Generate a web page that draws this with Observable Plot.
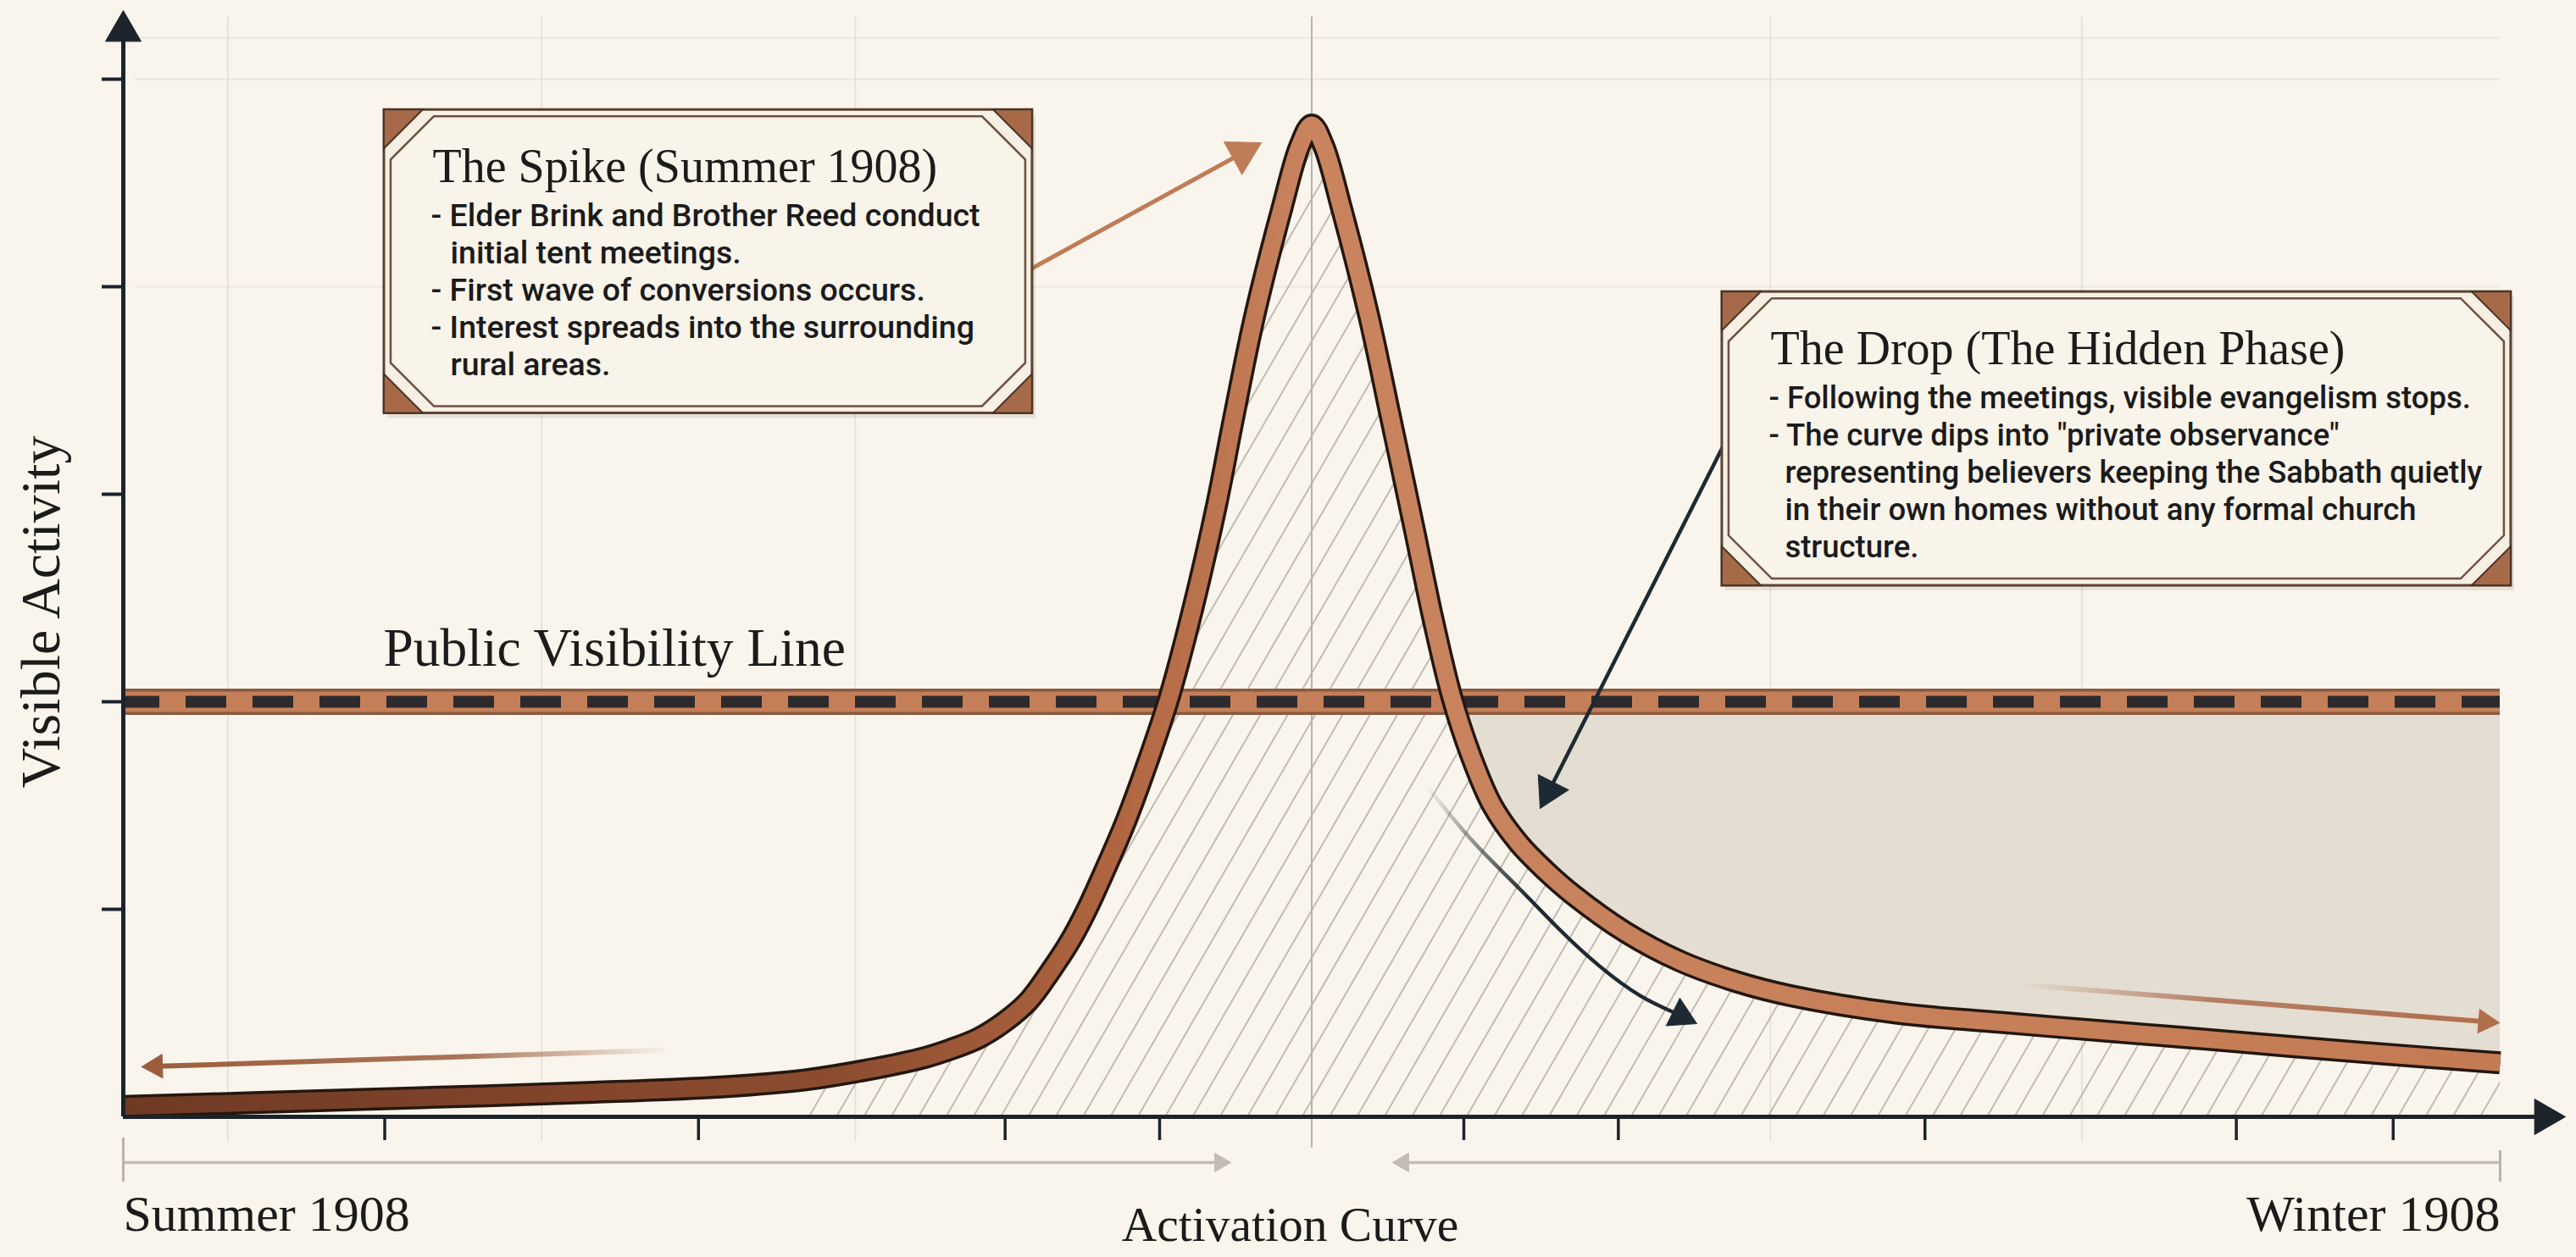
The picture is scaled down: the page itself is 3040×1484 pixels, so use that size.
<!DOCTYPE html>
<html><head><meta charset="utf-8">
<script src="https://cdn.jsdelivr.net/npm/d3@7"></script>
<script src="https://cdn.jsdelivr.net/npm/@observablehq/plot@0.6"></script>
<style>
html,body{margin:0;padding:0;background:#f9f5ec;}
#chart{width:3040px;height:1484px;overflow:hidden;}
#chart svg{display:block;overflow:visible;}
</style></head><body>
<svg width="0" height="0" style="position:absolute">
<defs>
  <linearGradient id="curveGrad" gradientUnits="userSpaceOnUse" x1="145" y1="0" x2="2950" y2="0">
    <stop offset="0" stop-color="#6f3a24"/>
    <stop offset="0.3" stop-color="#8d4c2f"/>
    <stop offset="0.42" stop-color="#b06641"/>
    <stop offset="0.5" stop-color="#c9845f"/>
    <stop offset="1" stop-color="#c47b53"/>
  </linearGradient>
  <linearGradient id="fadeLeft" gradientUnits="userSpaceOnUse" x1="167" y1="0" x2="792" y2="0">
    <stop offset="0" stop-color="#9c5d3d" stop-opacity="1"/>
    <stop offset="0.6" stop-color="#9c5d3d" stop-opacity="0.85"/>
    <stop offset="1" stop-color="#9c5d3d" stop-opacity="0"/>
  </linearGradient>
  <linearGradient id="fadeRight" gradientUnits="userSpaceOnUse" x1="2384" y1="0" x2="2949" y2="0">
    <stop offset="0" stop-color="#a8674a" stop-opacity="0"/>
    <stop offset="0.4" stop-color="#a8674a" stop-opacity="0.8"/>
    <stop offset="1" stop-color="#b06e4b" stop-opacity="1"/>
  </linearGradient>
  <linearGradient id="fadeDark" gradientUnits="userSpaceOnUse" x1="1683" y1="927" x2="1800" y2="1060">
    <stop offset="0" stop-color="#1e2a33" stop-opacity="0"/>
    <stop offset="1" stop-color="#1e2a33" stop-opacity="1"/>
  </linearGradient>
  <pattern id="hatch" patternUnits="userSpaceOnUse" width="28" height="28" patternTransform="rotate(30)">
    <line x1="2" y1="0" x2="2" y2="28" stroke="#b3aca2" stroke-width="1.6"/>
  </pattern>
</defs>
</svg>
<div id="chart"></div>
<script>
// ---------- data ----------
const curveX = [0,5.5,12.5,19.8,25.3,28.7,31.7,33.7,34.8,36.0,37.1,38.1,39.0,39.8,40.5,41.3,42.2,43.1,44.0,45.0,46.0,46.7,47.6,48.75,49.5,50.0,50.5,51.25,52.4,53.3,54.3,55.1,55.9,56.7,57.6,58.7,59.8,61.0,63.2,65.5,67.9,70.1,74.6,79.0,83.7,87.5,91.1,95.4,100];
const curveY = [0.05,0.068,0.092,0.118,0.145,0.178,0.235,0.285,0.325,0.38,0.46,0.56,0.70,0.84,0.99,1.19,1.43,1.71,2.02,2.45,2.95,3.36,3.86,4.38,4.68,4.78,4.68,4.38,3.86,3.38,2.84,2.40,2.02,1.74,1.50,1.32,1.19,1.07,0.89,0.75,0.65,0.585,0.50,0.455,0.41,0.375,0.34,0.30,0.26];
const visibilityLevel = 2;
const yTicks = [1,2,3,4,5];
const xTicks = [11.0,24.2,37.1,43.6,56.4,62.9,75.8,88.9,95.5];
const gridX = [4.4,17.6,30.8,69.3,82.4];
const gridY = [4.0,5.0,5.2];
const peakX = 50;
const startLabel = "Summer 1908";
const endLabel = "Winter 1908";
const xLabel = "Activation Curve";
const yLabel = "Visible Activity";
const lineLabel = "Public Visibility Line";
const boxTitles = ["The Spike (Summer 1908)", "The Drop (The Hidden Phase)"];
const spikeLines = [
  {t:"- Elder Brink and Brother Reed conduct", indent:false},
  {t:"initial tent meetings.", indent:true},
  {t:"- First wave of conversions occurs.", indent:false},
  {t:"- Interest spreads into the surrounding", indent:false},
  {t:"rural areas.", indent:true}
];
const dropLines = [
  {t:"- Following the meetings, visible evangelism stops.", indent:false},
  {t:"- The curve dips into \"private observance\"", indent:false},
  {t:"representing believers keeping the Sabbath quietly", indent:true},
  {t:"in their own homes without any formal church", indent:true},
  {t:"structure.", indent:true}
];
// annotation anchors (data units)
const boxX1 = [10.98, 67.27], boxX2 = [38.25, 100.46], boxYTop = [4.852, 3.975], boxYBot = [3.39, 2.559];
const spikeArrow = [[38.25, 4.09],[47.88, 4.694]];
const dropArrow = [[67.42, 3.257],[59.61, 1.486]];
const slideArrow = [[54.83,1.596],[56.69,1.339],[58.68,1.106],[60.43,0.902],[62.10,0.727],[63.81,0.584],[66.2,0.449]];
const backArrow = [[23.07,0.322],[0.78,0.241]];
const tailArrow = [[79.82,0.637],[99.96,0.453]];
const subAxisY = -0.22;

// ---------- geometry helpers (same mapping as the Plot scales) ----------
const W = 3040, H = 1484, ML = 145, MR = 90, MT = 93, MB = 166;
const X = v => ML + v * (W - ML - MR) / 100;
const Y = v => (H - MB) - v * (H - MB - MT) / 5;
const iX = p => (p - ML) * 100 / (W - ML - MR);
const iY = p => ((H - MB) - p) * 5 / (H - MB - MT);
const pxY = p => p * 5 / (H - MB - MT);
const pxX = p => p * 100 / (W - ML - MR);
function head(tail, tip, s) {
  const dx = X(tip[0]) - X(tail[0]), dy = Y(tip[1]) - Y(tail[1]);
  const L = Math.hypot(dx, dy), ux = dx / L, uy = dy / L;
  const h = s * Math.sqrt(3) / 2;
  return {
    x: iX(X(tip[0]) - ux * h * 2 / 3), y: iY(Y(tip[1]) - uy * h * 2 / 3),
    r: s * 0.3713, rotate: Math.atan2(ux, -uy) * 180 / Math.PI,
    base: [iX(X(tip[0]) - ux * h * 0.85), iY(Y(tip[1]) - uy * h * 0.85)]
  };
}
const dotHead = (h, fill) => Plot.dot([h], {x: "x", y: "y", r: h.r, rotate: h.rotate, symbol: "triangle", fill, stroke: fill, strokeWidth: 1});

const curve = curveX.map((x, i) => ({x, y: curveY[i]}));
const hidden = curve.filter(d => d.x >= 55.9);
const hatched = curve.filter(d => d.x >= 26);

const hY = head([0,0],[0,iY(12)],42);
const hX = head([0,0],[iX(3027),0],42);
const hSpike = head(spikeArrow[0], spikeArrow[1], 44);
const hDrop = head(dropArrow[0], dropArrow[1], 40);
const hSlide = head(slideArrow[5], slideArrow[6], 36);
const hBack = head(backArrow[0], backArrow[1], 28);
const hTail = head(tailArrow[0], tailArrow[1], 28);
const hSubL = head([0, subAxisY], [46.6, subAxisY], 22);
const hSubR = head([100, subAxisY], [53.4, subAxisY], 22);

const ink = "#1c232a";
const serif = "Liberation Serif";
const sans = "Roboto";
const xy = {x: d => d[0], y: d => d[1]};
const CURVE = "catmull-rom";

function textLines(lines, b, indentPx) {
  return lines.map((d, i) => ({...d, x: boxX1[b] + pxX(d.indent ? indentPx : 55), y: boxYTop[b] - pxY(125.5 + i * 44)}));
}

const plot = Plot.plot({
  width: W, height: H,
  marginLeft: ML, marginRight: MR, marginTop: MT, marginBottom: MB,
  x: {domain: [0, 100], axis: null},
  y: {domain: [0, 5], axis: null},
  style: {background: "transparent", overflow: "visible"},
  marks: [
    // faint grid
    Plot.ruleX(gridX, {y1: -0.12, y2: 5.3, stroke: "#d2cbbf", strokeWidth: 1.5, strokeOpacity: 0.55}),
    Plot.ruleY(gridY, {x1: 0.5, x2: 100, stroke: "#d6cfc3", strokeWidth: 1.5, strokeOpacity: 0.45}),
    // hidden phase
    Plot.areaY(hidden, {x: "x", y1: "y", y2: () => 1.95, curve: CURVE, fill: "#e4ddd1"}),
    // hatch under the curve
    Plot.areaY(hatched, {x: "x", y: "y", curve: CURVE, fill: "url(#hatch)"}),
    Plot.ruleX([peakX], {y1: -0.15, y2: 5.3, stroke: "#b9b2a8", strokeWidth: 2}),
    // public visibility band
    Plot.ruleY([visibilityLevel], {x1: 0, x2: 100, stroke: "#8a5a40", strokeWidth: 31}),
    Plot.ruleY([visibilityLevel], {x1: 0, x2: 100, stroke: "#c47f58", strokeWidth: 24}),
    Plot.ruleY([visibilityLevel], {x1: 0, x2: 100, stroke: "#2c2a2d", strokeWidth: 14, strokeDasharray: "48,31", strokeDashoffset: 5}),
    // the activation curve
    Plot.line(curve, {x: "x", y: "y", curve: CURVE, stroke: "#24170f", strokeWidth: 27, strokeLinecap: "butt", strokeLinejoin: "round"}),
    Plot.line(curve, {x: "x", y: "y", curve: CURVE, stroke: "url(#curveGrad)", strokeWidth: 20, strokeLinecap: "butt", strokeLinejoin: "round"}),
    // axes
    Plot.ruleX([0], {y1: 0, y2: hY.base[1], stroke: ink, strokeWidth: 5}),
    Plot.ruleY([0], {x1: 0, x2: hX.base[0], stroke: ink, strokeWidth: 5}),
    Plot.ruleY(yTicks, {x1: iX(120), x2: 0, stroke: ink, strokeWidth: 4}),
    Plot.ruleX(xTicks, {y1: 0, y2: -pxY(28), stroke: ink, strokeWidth: 3.5}),
    dotHead(hY, ink), dotHead(hX, ink),
    // sub-axis range arrows
    Plot.ruleY([subAxisY], {x1: 0, x2: hSubL.base[0], stroke: "#c2bcb3", strokeWidth: 3.5}),
    Plot.ruleY([subAxisY], {x1: hSubR.base[0], x2: 100, stroke: "#c2bcb3", strokeWidth: 3.5}),
    Plot.ruleX([0], {y1: -pxY(25), y2: -pxY(77), stroke: "#b9b3aa", strokeWidth: 3}),
    Plot.ruleX([100], {y1: -pxY(40), y2: -pxY(77), stroke: "#b9b3aa", strokeWidth: 3}),
    dotHead(hSubL, "#c2bcb3"), dotHead(hSubR, "#c2bcb3"),
    // annotation arrows
    Plot.line([spikeArrow[0], hSpike.base], {...xy, stroke: "#c07b57", strokeWidth: 5}),
    dotHead(hSpike, "#c07b57"),
    Plot.line([dropArrow[0], hDrop.base], {...xy, stroke: "#1e2a33", strokeWidth: 4.5}),
    dotHead(hDrop, "#1e2a33"),
    Plot.line([...slideArrow.slice(0, 6), hSlide.base], {...xy, curve: "natural", stroke: "url(#fadeDark)", strokeWidth: 4.5}),
    dotHead(hSlide, "#1e2a33"),
    Plot.line([backArrow[0], hBack.base], {...xy, stroke: "url(#fadeLeft)", strokeWidth: 6}),
    dotHead(hBack, "#9c5d3d"),
    Plot.line([tailArrow[0], hTail.base], {...xy, stroke: "url(#fadeRight)", strokeWidth: 6}),
    dotHead(hTail, "#b06e4b"),
    // labels
    Plot.text([lineLabel], {x: iX(452), y: iY(785 - 0.32 * 63.5), text: d => d, textAnchor: "start", lineAnchor: "middle", fontSize: 63.5, fontFamily: serif, fill: "#1b1b1b"}),
    Plot.text([startLabel], {x: 0, y: iY(1452 - 0.32 * 60), text: d => d, textAnchor: "start", lineAnchor: "middle", fontSize: 60, fontFamily: serif, fill: "#1b1b1b"}),
    Plot.text([endLabel], {x: 100, y: iY(1452 - 0.32 * 60), text: d => d, textAnchor: "end", lineAnchor: "middle", fontSize: 60, fontFamily: serif, fill: "#1b1b1b"}),
    Plot.text([xLabel], {x: iX(1522), y: iY(1464 - 0.32 * 57.5), text: d => d, textAnchor: "middle", lineAnchor: "middle", fontSize: 57.5, fontFamily: serif, fill: "#1b1b1b"}),
    Plot.text([yLabel], {x: iX(48), y: iY(722), text: d => d, rotate: -90, textAnchor: "middle", lineAnchor: "middle", fontSize: 66, fontFamily: serif, fill: "#1b1b1b"}),
    // box texts
    Plot.text(boxTitles.map((t, b) => ({t, x: boxX1[b] + pxX(57), y: boxYTop[b] - pxY(85 - 0.32 * 55)})), {x: "x", y: "y", text: "t", textAnchor: "start", lineAnchor: "middle", fontSize: 56, fontFamily: serif, fill: "#1b1b1b"}),
    Plot.text(textLines(spikeLines, 0, 78), {x: "x", y: "y", text: "t", textAnchor: "start", lineAnchor: "middle", fontSize: 37.5, fontWeight: 500, fontFamily: sans, fill: "#1b1b1b"}),
    Plot.text(textLines(dropLines, 1, 74), {x: "x", y: "y", text: "t", textAnchor: "start", lineAnchor: "middle", fontSize: 36.5, fontWeight: 500, fontFamily: sans, fill: "#1b1b1b"})
  ]
});
document.getElementById("chart").appendChild(plot);

// ---------- annotation frames, drawn through the plot's scales ----------
const sx = plot.scale("x"), sy = plot.scale("y");
const firstText = plot.querySelector('g[aria-label="text"]');
const frames = document.createElementNS("http://www.w3.org/2000/svg", "g");
plot.insertBefore(frames, firstText);
const fg = d3.select(frames);
boxX1.forEach((_, b) => {
  const x0 = sx.apply(boxX1[b]), x1 = sx.apply(boxX2[b]);
  const y0 = sy.apply(boxYTop[b]), y1 = sy.apply(boxYBot[b]);
  const c = 46, i = 8, c2 = c + 13;
  fg.append("rect").attr("x", x0 + 4).attr("y", y0 + 6).attr("width", x1 - x0).attr("height", y1 - y0)
    .attr("fill", "rgba(70,45,25,0.10)");
  fg.append("rect").attr("x", x0).attr("y", y0).attr("width", x1 - x0).attr("height", y1 - y0)
    .attr("fill", "#f6efe3").attr("stroke", "#5b4232").attr("stroke-width", 3);
  const oct = [[x0 + c2, y0 + i], [x1 - c2, y0 + i], [x1 - i, y0 + c2], [x1 - i, y1 - c2],
               [x1 - c2, y1 - i], [x0 + c2, y1 - i], [x0 + i, y1 - c2], [x0 + i, y0 + c2]];
  fg.append("polygon").attr("points", oct.map(p => p.join(",")).join(" "))
    .attr("fill", "#f9f4ea").attr("stroke", "#6e5040").attr("stroke-width", 2.5);
  [[x0, y0, 1, 1], [x1, y0, -1, 1], [x1, y1, -1, -1], [x0, y1, 1, -1]].forEach(([cx, cy, dx, dy]) => {
    fg.append("polygon")
      .attr("points", [[cx, cy], [cx + dx * c, cy], [cx, cy + dy * c]].map(p => p.join(",")).join(" "))
      .attr("fill", "#a66a49").attr("stroke", "#4a3326").attr("stroke-width", 2);
  });
});
</script>
</body></html>
